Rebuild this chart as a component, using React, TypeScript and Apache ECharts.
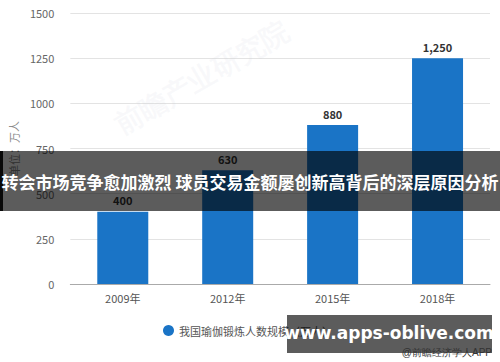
import React, { useEffect, useRef } from "react";
import * as echarts from "echarts";

const categories = ["2009年", "2012年", "2015年", "2018年"];
const values = [400, 630, 880, 1250];
const seriesName = "我国瑜伽锻炼人数规模（万人）";
const yAxisName = "单位：万人";
const bannerTitle = "转会市场竞争愈加激烈 球员交易金额屡创新高背后的深层原因分析";
const siteText = "www.apps-oblive.com";
const sourceText = "@前瞻经济学人APP";
const watermark = "前瞻产业研究院";

export default function App() {
  const ref = useRef<HTMLDivElement>(null);
  useEffect(() => {
    document.body.style.margin = "0";
    const chart = echarts.init(ref.current!, null, { renderer: "svg" });
    chart.setOption({
      animation: false,
      backgroundColor: "#ffffff",
      textStyle: { fontFamily: "'Noto Sans CJK SC', 'Noto Sans', sans-serif" },
      grid: { left: 63, right: 10, top: 13, bottom: 78 },
      legend: {
        left: 158,
        top: 320,
        icon: "circle",
        itemWidth: 11,
        itemHeight: 11,
        itemGap: 6,
        textStyle: { color: "#555", fontSize: 11 },
        data: [seriesName],
      },
      xAxis: {
        type: "category",
        data: categories,
        axisTick: { alignWithLabel: true, length: 5, lineStyle: { color: "#aaa" } },
        axisLine: { lineStyle: { color: "#aaa" } },
        axisLabel: { color: "#555", fontSize: 11, margin: 8 },
      },
      yAxis: {
        type: "value",
        min: 0,
        max: 1500,
        interval: 250,
        name: yAxisName,
        nameLocation: "middle",
        nameRotate: 90,
        nameGap: 50,
        nameTextStyle: { color: "#888", fontSize: 11 },
        axisLine: { show: false },
        axisTick: { show: false },
        axisLabel: { color: "#666", fontSize: 11, margin: 16, formatter: (v: number) => String(v) },
        splitLine: { lineStyle: { color: "#e3e3e3" } },
      },
      series: [
        {
          name: seriesName,
          type: "bar",
          data: values,
          barWidth: 51,
          itemStyle: { color: "#1a74c6" },
          label: {
            show: true,
            position: "top",
            distance: 6,
            color: "#333",
            fontWeight: "bold",
            fontSize: 11,
            formatter: (p: any) => Number(p.value).toLocaleString("en-US"),
          },
        },
      ],
      graphic: [
        {
          type: "text",
          x: 110,
          y: 115,
          rotation: Math.PI / 6,
          z: 1,
          style: {
            text: watermark,
            fill: "rgba(200,205,215,0.12)",
            fontSize: 28,
            fontWeight: "bold",
          },
        },
        {
          type: "rect",
          shape: { x: 0, y: 151, width: 500, height: 60 },
          style: { fill: "rgba(0,0,0,0.64)" },
          z: 100,
        },
        {
          type: "rect",
          shape: { x: 0, y: 151, width: 3, height: 60 },
          style: { fill: "rgba(0,0,0,0.9)" },
          z: 101,
        },
        {
          type: "text",
          x: 250,
          y: 181,
          z: 102,
          style: {
            text: bannerTitle,
            fill: "#ffffff",
            fontSize: 17,
            fontWeight: "bold",
            align: "center",
            verticalAlign: "middle",
            fontFamily: "'Noto Sans CJK SC', sans-serif",
          },
        },
        {
          type: "rect",
          shape: { x: 287, y: 315, width: 205, height: 38 },
          style: { fill: "rgba(0,0,0,0.64)" },
          z: 100,
        },
        {
          type: "text",
          x: 389,
          y: 333,
          z: 102,
          style: {
            text: siteText,
            fill: "#ffffff",
            fontSize: 17,
            fontWeight: "bold",
            align: "center",
            verticalAlign: "middle",
            fontFamily: "'DejaVu Sans', sans-serif",
          },
        },
        {
          type: "text",
          x: 492,
          y: 352,
          z: 103,
          style: {
            text: sourceText,
            fill: "#333",
            fontSize: 10,
            align: "right",
            verticalAlign: "middle",
          },
        },
      ],
    });
    return () => chart.dispose();
  }, []);
  return <div ref={ref} style={{ width: 500, height: 362, position: "absolute", left: 0, top: 0 }} />;
}
